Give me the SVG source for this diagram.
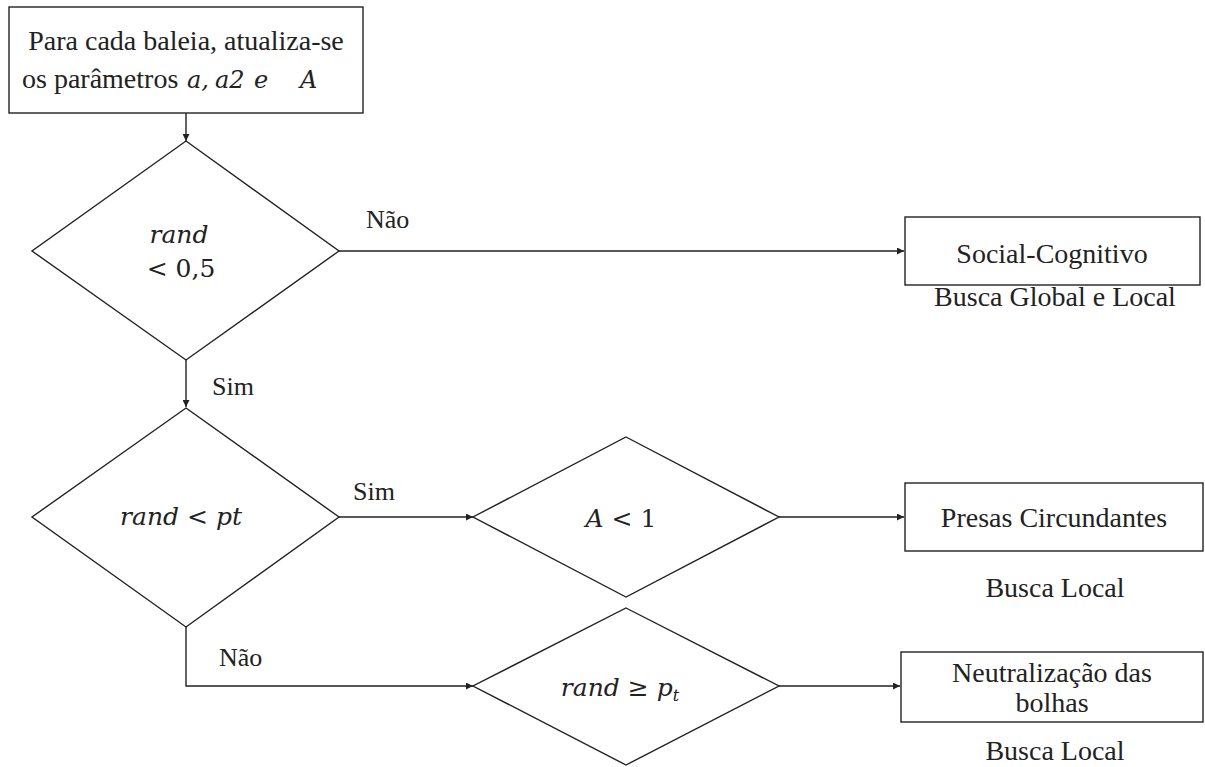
<svg xmlns="http://www.w3.org/2000/svg" width="1205" height="767" viewBox="0 0 1205 767">
<style>
.shape{fill:#fff;stroke:#222;stroke-width:1.4}
.t{font-family:"Liberation Serif","Times New Roman",serif;font-size:28px;fill:#222;text-anchor:middle}
.m{font-family:"DejaVu Serif",serif;font-style:italic;font-size:25px;fill:#222;text-anchor:middle}
.up{font-style:normal}
.mi{font-family:"DejaVu Serif",serif;font-style:italic;font-size:24px}
.lbl{font-family:"Liberation Serif","Times New Roman",serif;font-size:26px;fill:#222}
.c{fill:none;stroke:#222;stroke-width:1.4}
</style>
<defs>
<marker id="ah" viewBox="0 0 10 10" refX="10" refY="5" markerWidth="7" markerHeight="7" markerUnits="userSpaceOnUse" orient="auto">
<path d="M0,0 L10,5 L0,10 z" fill="#222"/>
</marker>
</defs>
<rect width="1205" height="767" fill="#fff"/>
<g id="connectors">
<path class="c" d="M186,113 V141" marker-end="url(#ah)"/>
<path class="c" d="M339,251 H904" marker-end="url(#ah)"/>
<path class="c" d="M186,360 V407" marker-end="url(#ah)"/>
<path class="c" d="M339,517 H473" marker-end="url(#ah)"/>
<path class="c" d="M779,517 H904" marker-end="url(#ah)"/>
<path class="c" d="M186,627 V686 H473" marker-end="url(#ah)"/>
<path class="c" d="M779,686 H900" marker-end="url(#ah)"/>
<text class="lbl" x="366" y="228">Não</text>
<text class="lbl" x="212" y="395">Sim</text>
<text class="lbl" x="353" y="500">Sim</text>
<text class="lbl" x="219" y="666">Não</text>
</g>
<g id="start">
<rect class="shape" x="9" y="7" width="354" height="106"/>
<text class="t" x="186" y="50">Para cada baleia, atualiza-se</text>
<text class="t" x="22" y="88" style="text-anchor:start">os parâmetros <tspan class="mi" x="187">a,</tspan><tspan class="mi" x="215">a2</tspan><tspan class="mi" x="254">e</tspan><tspan class="mi" x="300">A</tspan></text>
</g>
<g id="d1">
<polygon class="shape" points="186,141 339,251 186,360 32,251"/>
<text class="m" x="179" y="243">rand</text>
<text class="m" x="181" y="277" style="font-style:normal">&lt; 0,5</text>
</g>
<g id="d2">
<polygon class="shape" points="186,408 339,517 186,627 32,517"/>
<text class="m" x="181" y="525">rand <tspan class="up">&lt;</tspan> pt</text>
</g>
<g id="d3">
<polygon class="shape" points="626,437 779,517 626,597 473,517"/>
<text class="m" x="621" y="527">A <tspan class="up">&lt; 1</tspan></text>
</g>
<g id="d4">
<polygon class="shape" points="626,608 779,686 626,765 473,686"/>
<text class="m" x="620" y="696">rand <tspan class="up">≥</tspan> p<tspan font-size="16" dy="5">t</tspan></text>
</g>
<g id="social">
<rect class="shape" x="905" y="217" width="295" height="68"/>
<text class="t" x="1052" y="263">Social-Cognitivo</text>
<text class="t" x="1055" y="306">Busca Global e Local</text>
</g>
<g id="presas">
<rect class="shape" x="905" y="483" width="298" height="68"/>
<text class="t" x="1054" y="527">Presas Circundantes</text>
<text class="t" x="1055" y="597">Busca Local</text>
</g>
<g id="neutral">
<rect class="shape" x="901" y="652" width="302" height="70"/>
<text class="t" x="1052" y="682">Neutralização das</text>
<text class="t" x="1052" y="712">bolhas</text>
<text class="t" x="1055" y="760">Busca Local</text>
</g>
</svg>
